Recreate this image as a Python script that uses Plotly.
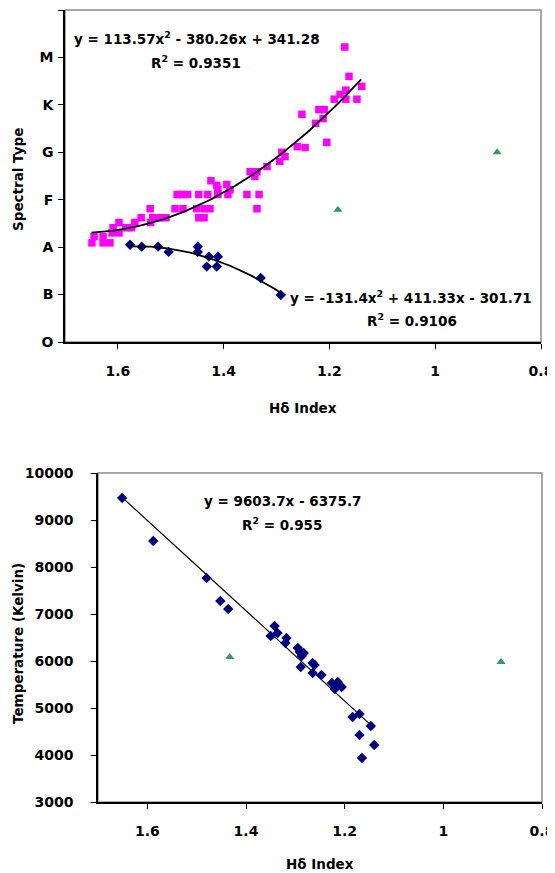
import numpy as np
import plotly.graph_objects as go

# ---------------- Data: top chart (Spectral type vs H-delta index) ----------------
pink_x = [1.649, 1.645, 1.628, 1.628, 1.615, 1.611, 1.609, 1.598, 1.598, 1.585,
          1.574, 1.568, 1.556, 1.539, 1.538, 1.534, 1.522, 1.509, 1.492, 1.488,
          1.479, 1.477, 1.468, 1.451, 1.447, 1.447, 1.437, 1.437, 1.430, 1.426,
          1.424, 1.413, 1.411, 1.411, 1.394, 1.388, 1.392, 1.356, 1.337, 1.333,
          1.350, 1.341, 1.337, 1.318, 1.294, 1.290, 1.284, 1.261, 1.246, 1.252,
          1.226, 1.212, 1.205, 1.220, 1.210, 1.191, 1.180, 1.169, 1.169, 1.148,
          1.139, 1.163, 1.171]
pink_y = [20.9, 22.2, 20.9, 22.2, 20.9, 23.0, 24.1, 25.2, 23.0, 24.1,
          24.1, 25.2, 26.2, 28.1, 25.2, 26.2, 26.2, 26.2, 28.1, 31.1,
          31.1, 28.1, 31.1, 28.1, 31.1, 26.2, 26.2, 28.1, 31.1, 28.1,
          34.0, 33.0, 32.1, 31.1, 33.2, 32.1, 31.1, 31.1, 28.1, 31.1,
          35.9, 34.9, 35.9, 37.0, 38.1, 40.0, 39.1, 41.2, 41.0, 48.0,
          46.1, 47.1, 42.1, 49.0, 49.0, 51.2, 52.2, 53.1, 51.2, 51.2,
          53.9, 56.0, 62.2]

blue_top_x = [1.577, 1.555, 1.524, 1.504, 1.449, 1.449, 1.428, 1.411, 1.432, 1.413,
              1.330, 1.292]
blue_top_y = [20.5, 20.1, 20.1, 19.0, 20.1, 19.0, 18.0, 18.0, 15.9, 15.9,
              13.5, 9.9]

green_top_x = [0.883, 1.184]
green_top_y = [40.0, 27.9]

pink_fit = [113.57, -380.26, 341.28]
pink_fit_range = [1.65, 1.14]
blue_fit = [-131.4, 411.33, -301.71]
blue_fit_range = [1.577, 1.292]

spec_tickvals = [0, 10, 20, 30, 40, 50, 60, 70]
spec_ticktext = ["O", "B", "A", "F", "G", "K", "M", ""]

# ---------------- Data: bottom chart (Temperature vs H-delta index) ----------------
temp_x = [1.651, 1.588, 1.480, 1.452, 1.436, 1.350, 1.342, 1.336, 1.318, 1.320,
          1.295, 1.291, 1.283, 1.287, 1.289, 1.265, 1.261, 1.265, 1.247, 1.226,
          1.214, 1.206, 1.220, 1.184, 1.170, 1.147, 1.170, 1.140, 1.165]
temp_y = [9468, 8553, 7766, 7277, 7106, 6532, 6745, 6596, 6489, 6383,
          6277, 6191, 6170, 6106, 5872, 5957, 5915, 5745, 5702, 5532,
          5553, 5447, 5404, 4809, 4872, 4617, 4426, 4213, 3936]

green_bot_x = [1.433, 0.883]
green_bot_y = [6085, 5979]

temp_fit = [9603.7, -6375.7]
temp_fit_range = [1.65, 1.14]

x_tickvals = [1.6, 1.4, 1.2, 1.0, 0.8]
x_ticktext = ["1.6", "1.4", "1.2", "1", "0.8"]
temp_tickvals = [3000, 4000, 5000, 6000, 7000, 8000, 9000, 10000]
temp_ticktext = ["3000", "4000", "5000", "6000", "7000", "8000", "9000", "10000"]

# ---------------- Figure ----------------
# The page body has an 8px margin, so the figure starts at (8, 8) in the window.
OFF = 8
W, H = 555 - OFF, 873 - OFF
FONT = "DejaVu Sans, Verdana, sans-serif"
MAGENTA = "#FF00FF"
NAVY = "#000080"
GREEN = "#339966"


def fx(px):
    return (px - OFF) / W


def fy(py):
    return 1 - (py - OFF) / H


def b(t):
    return "<b>%s</b>" % t if t else t


fig = go.Figure()

# top chart traces
fig.add_trace(go.Scatter(x=pink_x, y=pink_y, mode="markers", xaxis="x", yaxis="y",
                         marker=dict(symbol="square", size=7.5, color=MAGENTA)))
fig.add_trace(go.Scatter(x=blue_top_x, y=blue_top_y, mode="markers", xaxis="x", yaxis="y",
                         marker=dict(symbol="diamond", size=8, color=NAVY)))
fig.add_trace(go.Scatter(x=green_top_x, y=green_top_y, mode="markers", xaxis="x", yaxis="y",
                         marker=dict(symbol="triangle-up", size=8, color=GREEN)))
xf = np.linspace(pink_fit_range[0], pink_fit_range[1], 80)
fig.add_trace(go.Scatter(x=xf, y=np.polyval(pink_fit, xf), mode="lines", xaxis="x", yaxis="y",
                         line=dict(color="black", width=1.8)))
xf = np.linspace(blue_fit_range[0], blue_fit_range[1], 80)
fig.add_trace(go.Scatter(x=xf, y=np.polyval(blue_fit, xf), mode="lines", xaxis="x", yaxis="y",
                         line=dict(color="black", width=1.8)))

# bottom chart traces
xf = np.linspace(temp_fit_range[0], temp_fit_range[1], 20)
fig.add_trace(go.Scatter(x=xf, y=np.polyval(temp_fit, xf), mode="lines", xaxis="x2", yaxis="y2",
                         line=dict(color="black", width=1.2)))
fig.add_trace(go.Scatter(x=temp_x, y=temp_y, mode="markers", xaxis="x2", yaxis="y2",
                         marker=dict(symbol="diamond", size=8, color=NAVY)))
fig.add_trace(go.Scatter(x=green_bot_x, y=green_bot_y, mode="markers", xaxis="x2", yaxis="y2",
                         marker=dict(symbol="triangle-up", size=8, color=GREEN)))

tickfont = dict(family=FONT, size=14, color="black")
common_x = dict(range=[1.7, 0.8], tickvals=x_tickvals, ticktext=[b(t) for t in x_ticktext],
                showgrid=False, zeroline=False, showline=True, linecolor="black", linewidth=1.5,
                ticks="outside", ticklen=5, tickwidth=1, tickcolor="black",
                tickfont=tickfont, ticklabelstandoff=10, automargin=False,
                ticklabeloverflow="allow", fixedrange=True)
common_y = dict(showgrid=False, zeroline=False, showline=True, linecolor="black", linewidth=1.5,
                ticks="outside", ticklen=5, tickwidth=1, tickcolor="black",
                tickfont=tickfont, automargin=False, ticklabeloverflow="allow",
                fixedrange=True)

fig.update_layout(
    width=W, height=H,
    margin=dict(l=0, r=0, t=0, b=0, autoexpand=False),
    paper_bgcolor="white", plot_bgcolor="white",
    showlegend=False,
    xaxis=dict(domain=[fx(65), fx(541)], anchor="y", **common_x),
    yaxis=dict(domain=[fy(342), fy(10)], anchor="x", range=[0, 70],
               tickvals=spec_tickvals, ticktext=[b(t) for t in spec_ticktext],
               ticklabelstandoff=2, **common_y),
    xaxis2=dict(domain=[fx(98), fx(542)], anchor="y2", **common_x),
    yaxis2=dict(domain=[fy(802), fy(473)], anchor="x2", range=[3000, 10000],
                tickvals=temp_tickvals, ticktext=[b(t) for t in temp_ticktext],
                ticklabelstandoff=15, **common_y),
)

# grey plot-area borders (top / right)
for xr, yr in [("x domain", "y domain"), ("x2 domain", "y2 domain")]:
    fig.add_shape(type="rect", xref=xr, yref=yr, x0=0, y0=0, x1=1, y1=1,
                  line=dict(color="#8C8C8C", width=1.5), layer="below")

afont = dict(family=FONT, size=13.5, color="black")
tfont = dict(family=FONT, size=13.5, color="black")


def note(text, px, py, font=afont, angle=0):
    fig.add_annotation(text=b(text), x=fx(px), y=fy(py), xref="paper", yref="paper",
                       showarrow=False, font=font, textangle=angle,
                       xanchor="center", yanchor="middle")


# equations
note("y = 113.57x<sup>2</sup> - 380.26x + 341.28", 197, 38)
note("R<sup>2</sup> = 0.9351", 196, 62)
note("y = -131.4x<sup>2</sup> + 411.33x - 301.71", 411, 297)
note("R<sup>2</sup> = 0.9106", 412, 320)
note("y = 9603.7x - 6375.7", 282, 501)
note("R<sup>2</sup> = 0.955", 282, 524)

# axis titles
note("Spectral Type", 18, 180, tfont, -90)
note("Hδ Index", 303, 408, tfont)
note("Temperature (Kelvin)", 18, 644, tfont, -90)
note("Hδ Index", 320, 864, tfont)

fig.write_html("out.html")
